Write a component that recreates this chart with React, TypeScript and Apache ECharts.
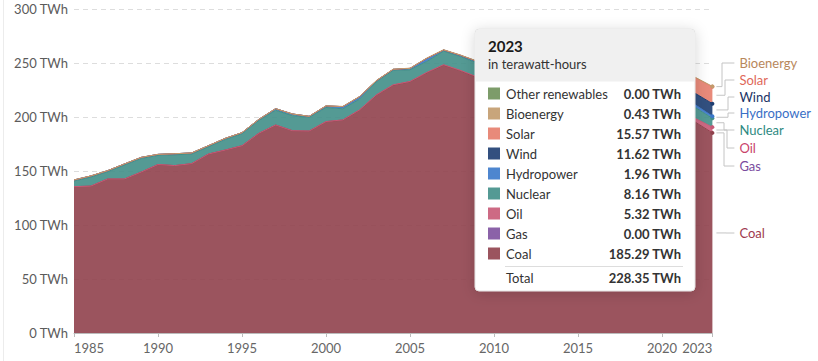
import React, { useEffect, useRef } from "react";
import * as echarts from "echarts";

const years = ["1985","1986","1987","1988","1989","1990","1991","1992","1993","1994","1995","1996","1997","1998","1999","2000","2001","2002","2003","2004","2005","2006","2007","2008","2009","2010","2011","2012","2013","2014","2015","2016","2017","2018","2019","2020","2021","2022","2023"];

const coal = [135.5,136.0,142.6,142.6,149.0,156.0,155.0,156.8,165.7,169.4,173.4,184.9,192.6,187.3,187.0,195.7,197.2,206.5,220.4,229.6,232.7,241.0,248.1,242.9,236.7,242.6,241.5,236.6,232.1,230.9,224.9,223.3,220.6,218.0,211.0,200.4,201.9,195.0,185.29];
const gas = [0,0,0,0,0,0,0,0,0,0,0,0,0,0,0,0,0,0,0,0,0,0,0,0,0,0,0,0,0,0,0,0,0,0,0,0,0,0,0];
const oil = [0,0,0,0,0,0,0,0,0,0,0,0,0,0,0,0.1,0.1,0.1,0.1,0.2,0.2,0.3,0.3,0.3,0.3,0.3,0.3,0.5,1.0,1.9,2.6,0.7,0.3,0.6,2.0,1.6,1.5,3.5,5.32];
const nuclear = [5.2,8.4,6.7,12.9,12.6,8.4,10.0,8.9,6.7,9.8,11.1,11.9,13.6,14.0,12.6,13.0,10.3,10.0,12.2,13.3,10.8,10.1,12.6,12.7,13.0,12.9,12.9,12.4,13.6,14.8,11.0,15.2,15.1,10.6,13.6,11.6,12.2,10.1,8.16];
const hydro = [1.0,1.0,1.0,1.0,1.0,1.0,1.0,1.0,1.0,1.0,1.0,1.0,1.5,1.5,1.0,1.4,2.0,2.2,0.9,1.0,1.3,2.9,1.0,1.2,1.4,2.1,2.0,1.2,1.2,1.0,0.8,0.8,0.8,1.0,1.1,1.3,2.0,2.5,1.96];
const wind = [0,0,0,0,0,0,0,0,0,0,0,0,0,0,0,0,0,0,0,0,0,0,0,0.03,0.03,0.03,0.03,0.03,0.03,1.1,2.5,3.7,5.0,6.4,6.6,6.6,8.2,10.6,11.62];
const solar = [0,0,0,0,0,0,0,0,0,0,0,0,0,0,0,0,0,0,0,0,0,0,0,0,0,0,0,0.1,0.5,2.3,3.6,4.9,6.2,6.5,6.6,7.3,9.0,14.5,15.57];
const bioenergy = [0,0,0,0,0,0,0,0,0,0,0,0,0,0,0,0.2,0.2,0.2,0.2,0.2,0.2,0.3,0.3,0.3,0.3,0.3,0.3,0.3,0.3,0.3,0.3,0.4,0.4,0.4,0.4,0.4,0.4,0.4,0.43];
const otherRenewables = [0,0,0,0,0,0,0,0,0,0,0,0,0,0,0,0,0,0,0,0,0,0,0,0,0,0,0,0,0,0,0,0,0,0,0,0,0,0,0];

const yTicks = [0, 50, 100, 150, 200, 250, 300];
const tooltipYear = "2023";
const unitLabel = "in terawatt-hours";

const FONT = "Lato, 'Noto Sans', sans-serif";

// stacking order bottom -> top
const seriesDefs = [
  { name: "Coal", data: coal, fill: "#90414c", swatch: "#9b545e", label: "#9e3a4e", line: 1 },
  { name: "Gas", data: gas, fill: "#7e519e", swatch: "#8b62a8", label: "#7a4b9e", line: 0 },
  { name: "Oil", data: oil, fill: "#c75976", swatch: "#cd6a84", label: "#c9436a", line: 1 },
  { name: "Nuclear", data: nuclear, fill: "#418f88", swatch: "#549a94", label: "#2e8a82", line: 1 },
  { name: "Hydropower", data: hydro, fill: "#3a78ca", swatch: "#4e86cf", label: "#3a6fc6", line: 1 },
  { name: "Wind", data: wind, fill: "#1c3d71", swatch: "#33507f", label: "#1b3466", line: 1 },
  { name: "Solar", data: solar, fill: "#e57d6b", swatch: "#e88a7a", label: "#e0685a", line: 1 },
  { name: "Bioenergy", data: bioenergy, fill: "#c29b6c", swatch: "#c8a57b", label: "#b8875b", line: 1 },
  { name: "Other renewables", data: otherRenewables, fill: "#6f9159", swatch: "#7d9c6a", label: "#5f8a4c", line: 0 },
];

// end-label layout (pixel positions for label text & connector elbow)
const endLabels = [
  { name: "Bioenergy", y: 63, elbow: 722 },
  { name: "Solar", y: 80, elbow: 725 },
  { name: "Wind", y: 97, elbow: 728 },
  { name: "Hydropower", y: 113, elbow: 728 },
  { name: "Nuclear", y: 130, elbow: 724 },
  { name: "Oil", y: 148, elbow: 727 },
  { name: "Gas", y: 166, elbow: 724 },
  { name: "Coal", y: 233, elbow: 726 },
];

export default function App() {
  const ref = useRef<HTMLDivElement>(null);

  useEffect(() => {
    if (!ref.current) return;
    const chart = echarts.init(ref.current, null, { renderer: "svg" });
    const last = years.length - 1;

    const series = seriesDefs.map((s) => ({
      name: s.name,
      type: "line",
      stack: "total",
      data: s.data,
      smooth: false,
      showSymbol: true,
      symbol: "circle",
      symbolSize: (_v: any, p: any) => (p.dataIndex === last && s.line ? 4 : 0),
      itemStyle: { color: s.fill },
      lineStyle: { width: s.line, color: s.fill },
      areaStyle: { color: s.fill, opacity: 0.9 },
      emphasis: { disabled: true },
      z: 2,
    }));

    chart.setOption({
      animation: false,
      textStyle: { fontFamily: FONT },
      grid: { left: 74, right: 105.6, top: 9, bottom: 28, containLabel: false },
      xAxis: {
        type: "category",
        data: years,
        boundaryGap: false,
        axisLine: { show: true, lineStyle: { color: "#bbbbbb", width: 1 } },
        axisTick: {
          show: true,
          length: 4,
          lineStyle: { color: "#bbbbbb" },
          interval: (i: number, v: string) => (Number(v) - 1985) % 5 === 0 || v === "2023",
        },
        axisLabel: {
          color: "#666666",
          fontSize: 13,
          fontFamily: FONT,
          margin: 8,
          interval: (i: number, v: string) => (Number(v) - 1985) % 5 === 0 || v === "2023",
          alignMinLabel: "left",
          alignMaxLabel: "right",
        },
        splitLine: { show: false },
      },
      yAxis: {
        type: "value",
        min: yTicks[0],
        max: yTicks[yTicks.length - 1],
        interval: 50,
        axisLine: { show: false },
        axisTick: { show: false },
        axisLabel: {
          color: "#5b5b5b",
          fontSize: 13,
          fontFamily: FONT,
          margin: 6,
          formatter: (v: number) => `${v} TWh`,
        },
        splitLine: { show: true, lineStyle: { color: "#dddddd", type: [5, 4], width: 1 } },
      },
      series,
    });

    const Z = 100;
    const graphics: any[] = [];
    graphics.push({
      type: "line",
      z: Z,
      shape: { x1: 3.5, y1: 0, x2: 3.5, y2: 361 },
      style: { stroke: "#ececec", lineWidth: 1 },
      silent: true,
    });

    let cum = 0;
    const mids: Record<string, number> = {};
    seriesDefs.forEach((s) => {
      const v = s.data[last];
      const mid = cum + v / 2;
      cum += v;
      const p = chart.convertToPixel({ gridIndex: 0 }, [years[last], mid]) as number[];
      mids[s.name] = p[1];
    });
    const endX = (chart.convertToPixel({ gridIndex: 0 }, [years[last], 0]) as number[])[0];

    endLabels.forEach((l) => {
      const def = seriesDefs.find((s) => s.name === l.name)!;
      const my = mids[l.name];
      graphics.push({
        type: "polyline",
        z: Z,
        shape: {
          points: [
            [endX + 4, my],
            [l.elbow, my],
            [l.elbow, l.y],
            [endX + 22, l.y],
          ],
        },
        style: { stroke: "#c4c4c4", lineWidth: 1, fill: null },
        silent: true,
      });
      graphics.push({
        type: "text",
        z: Z,
        x: endX + 27,
        y: l.y,
        style: {
          text: l.name,
          fill: def.label,
          fontSize: 13,
          fontFamily: FONT,
          verticalAlign: "middle",
          align: "left",
        },
        silent: true,
      });
    });

    // tooltip
    const tx = 475, ty = 29, tw = 220, th = 262;
    graphics.push({
      type: "rect",
      z: Z,
      shape: { x: tx, y: ty, width: tw, height: th, r: 4 },
      style: {
        fill: "#ffffff",
        stroke: "#e3e3e3",
        lineWidth: 1,
        shadowBlur: 14,
        shadowColor: "rgba(0,0,0,0.16)",
        shadowOffsetY: 2,
      },
      silent: true,
    });
    graphics.push({
      type: "rect",
      z: Z + 1,
      shape: { x: tx + 0.5, y: ty + 0.5, width: tw - 1, height: 52, r: [4, 4, 0, 0] },
      style: { fill: "#f0f0f0" },
      silent: true,
    });
    graphics.push({
      type: "text",
      z: Z + 2,
      x: 488,
      y: 46,
      style: { text: tooltipYear, fill: "#1a1a1a", fontSize: 15, fontWeight: "bold", fontFamily: FONT, verticalAlign: "middle" },
      silent: true,
    });
    graphics.push({
      type: "text",
      z: Z + 2,
      x: 488,
      y: 64,
      style: { text: unitLabel, fill: "#333333", fontSize: 13, fontFamily: FONT, verticalAlign: "middle" },
      silent: true,
    });
    const rows = [...seriesDefs].reverse();
    let total = 0;
    rows.forEach((s, i) => {
      const ry = 94 + i * 20;
      const v = s.data[last];
      total += v;
      graphics.push({
        type: "rect",
        z: Z + 2,
        shape: { x: 488, y: ry - 6.5, width: 12, height: 12 },
        style: { fill: s.swatch },
        silent: true,
      });
      graphics.push({
        type: "text",
        z: Z + 2,
        x: 506,
        y: ry,
        style: { text: s.name, fill: "#333333", fontSize: 13, fontFamily: FONT, verticalAlign: "middle" },
        silent: true,
      });
      graphics.push({
        type: "text",
        z: Z + 2,
        x: 681,
        y: ry,
        style: { text: `${v.toFixed(2)} TWh`, fill: "#333333", fontSize: 13, fontWeight: "bold", fontFamily: FONT, verticalAlign: "middle", align: "right" },
        silent: true,
      });
    });
    graphics.push({
      type: "line",
      z: Z + 2,
      shape: { x1: 505, y1: 266.5, x2: 683, y2: 266.5 },
      style: { stroke: "#dddddd", lineWidth: 1 },
      silent: true,
    });
    graphics.push({
      type: "text",
      z: Z + 2,
      x: 506,
      y: 278,
      style: { text: "Total", fill: "#333333", fontSize: 13, fontFamily: FONT, verticalAlign: "middle" },
      silent: true,
    });
    graphics.push({
      type: "text",
      z: Z + 2,
      x: 681,
      y: 278,
      style: { text: `${total.toFixed(2)} TWh`, fill: "#333333", fontSize: 13, fontWeight: "bold", fontFamily: FONT, verticalAlign: "middle", align: "right" },
      silent: true,
    });

    chart.setOption({ graphic: graphics });

    return () => chart.dispose();
  }, []);

  return (
    <div
      ref={ref}
      style={{ position: "fixed", left: 0, top: 0, width: 818, height: 361, background: "#ffffff" }}
    />
  );
}
